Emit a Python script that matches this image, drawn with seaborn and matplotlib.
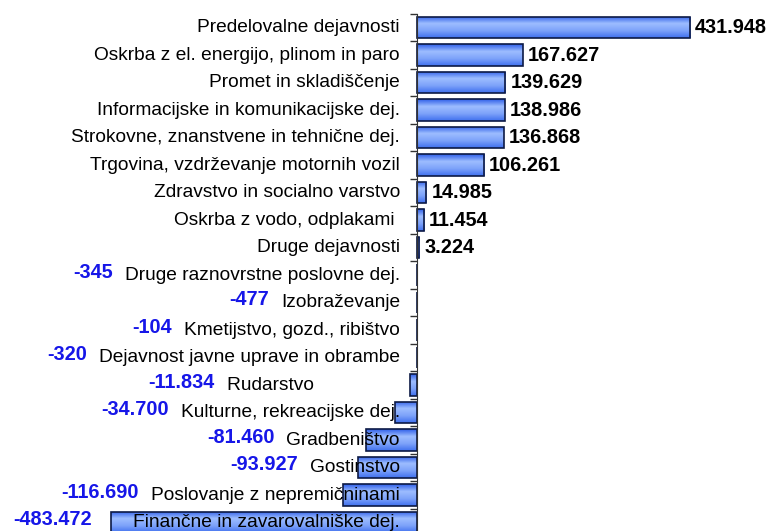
import numpy as np
import pandas as pd
import matplotlib
matplotlib.use("Agg")
import matplotlib.pyplot as plt
import seaborn as sns
from matplotlib.colors import LinearSegmentedColormap

sectors = ["Predelovalne dejavnosti", "Oskrba z el. energijo, plinom in paro",
           "Promet in skladiščenje", "Informacijske in komunikacijske dej.",
           "Strokovne, znanstvene in tehnične dej.", "Trgovina, vzdrževanje motornih vozil",
           "Zdravstvo in socialno varstvo", "Oskrba z vodo, odplakami ", "Druge dejavnosti",
           "Druge raznovrstne poslovne dej.", "Izobraževanje", "Kmetijstvo, gozd., ribištvo",
           "Dejavnost javne uprave in obrambe", "Rudarstvo" + " " * 16,
           "Kulturne, rekreacijske dej.", "Gradbeništvo", "Gostinstvo",
           "Poslovanje z nepremičninami", "Finančne in zavarovalniške dej."]
values = [431948, 167627, 139629, 138986, 136868, 106261, 14985, 11454, 3224,
          -345, -477, -104, -320, -11834, -34700, -81460, -93927, -116690, -483472]

df = pd.DataFrame({"Sektor": sectors, "Vrednost": values})

sns.set_style("white")
plt.rcParams["font.family"] = ["Liberation Sans", "DejaVu Sans"]

fig = plt.figure(figsize=(7.74, 5.31), dpi=100)
ax = fig.add_axes([0, -5.25 / 531, 1, 522.5 / 531])
sns.barplot(data=df, x="Vrednost", y="Sektor", orient="h", color="#6f96f7",
            width=0.77, ax=ax)

# vertical gradient fill, clipped to each bar
grad = np.linspace(0, 1, 64).reshape(-1, 1)
cmap = LinearSegmentedColormap.from_list("bar", ["#2f5fe8", "#9dbdff", "#7da2fa", "#3f70ee"])
for p in ax.patches:
    x0, y0, w, h = p.get_x(), p.get_y(), p.get_width(), p.get_height()
    im = ax.imshow(grad, cmap=cmap, aspect="auto", extent=(x0, x0 + w, y0 + h, y0),
                   zorder=1.5, interpolation="bilinear")
    im.set_clip_path(p)
    p.set_facecolor("none"); p.set_edgecolor("#0d1a45"); p.set_linewidth(1.2)
    p.set_zorder(2)

ax.set_xlim(-659700, 564800)
ax.set_ylim(len(sectors) - 0.5, -0.5)
ax.set_xlabel(""); ax.set_ylabel("")
for s in ["top", "right", "bottom"]:
    ax.spines[s].set_visible(False)
ax.spines["left"].set_position(("data", 0))
ax.spines["left"].set_color("#333333")
ax.tick_params(axis="x", bottom=False, labelbottom=False)
ax.set_yticks(np.arange(-0.5, len(sectors), 1))
ax.set_yticklabels([])
ax.tick_params(axis="y", left=True, length=5, width=1, color="#333333", direction="out")

fmt = lambda v: f"{v:,}".replace(",", ".")
labels = []
for i, (name, v) in enumerate(zip(sectors, values)):
    lab = ax.annotate(name, xy=(0, i), xytext=(-17, 0), textcoords="offset pixels",
                      ha="right", va="center", fontsize=13.8, color="black")
    labels.append(lab)
    if v >= 0:
        ax.annotate(fmt(v), xy=(v, i), xytext=(5, 0), textcoords="offset pixels",
                    ha="left", va="center", fontsize=14.3, fontweight="bold", color="black")

# negative values sit left of the label, and never on top of their bar
fig.canvas.draw()
r = fig.canvas.get_renderer()
for lab, p, v in zip(labels, ax.patches, values):
    if v >= 0:
        continue
    bb = lab.get_window_extent(r)
    bar_left = ax.transData.transform((p.get_x() + min(p.get_width(), 0), 0))[0]
    x_px = min(bb.x0 - 12, bar_left - 20)
    ax.annotate(fmt(v), xy=(x_px, (bb.y0 + bb.y1) / 2 + 3), xycoords="figure pixels",
                ha="right", va="center", fontsize=14.3, fontweight="bold", color="#1616e8")

fig.savefig("out.png", dpi=100)
